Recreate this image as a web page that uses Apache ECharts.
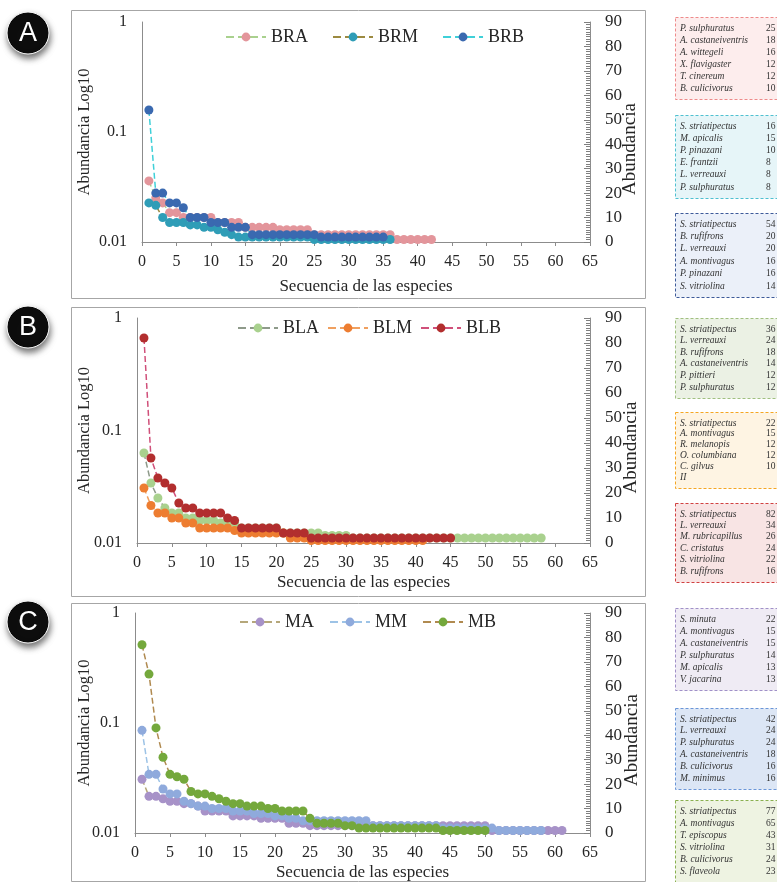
<!DOCTYPE html>
<html>
<head>
<meta charset="utf-8">
<script src="https://cdn.jsdelivr.net/npm/echarts@6.0.0/dist/echarts.min.js"></script>
<style>
  html, body { margin: 0; padding: 0; background: #fff; }
  #chart { width: 777px; height: 882px; }
</style>
</head>
<body>
<div id="chart"></div>
<script>
// abundancia por secuencia de especies (x = 1..n)
const braCounts = [25,18,16,12,12,10,10,10,10,10,8,8,8,8,6,6,6,6,6,5,5,5,5,5,3,3,3,3,3,3,3,3,3,3,3,3,1,1,1,1,1,1]
const brmCounts = [16,15,10,8,8,8,7,7,6,6,5,4,3,2,2,2,2,2,2,2,2,2,2,2,1,1,1,1,1,1,1,1,1,1,1,1]
const brbCounts = [54,20,20,16,16,14,10,10,10,8,8,8,6,6,6,3,3,3,3,3,3,3,3,3,3,2,2,2,2,2,2,2,2,2,2]

const blaCounts = [36,24,18,14,12,12,10,10,9,9,9,8,8,8,6,6,6,6,6,6,4,4,4,4,4,4,3,3,3,3,
  2,2,2,2,2,2,2,2,2,2,2,2,2,2,2,2,2,2,2,2,2,2,2,2,2,2,2,2]
const blmCounts = [22,15,12,12,10,10,8,8,6,6,6,6,6,5,4,4,4,4,4,4,4,2,2,2,1,1,1,1,1,1,1,1,1,1,1,1,1,1,1,1,1]
const blbCounts = [82,34,26,24,22,16,14,14,12,12,12,12,10,9,6,6,6,6,6,6,4,4,4,4,
  2,2,2,2,2,2,2,2,2,2,2,2,2,2,2,2,2,2,2,2,2]

const maCounts = [22,15,15,14,13,13,12,12,11,9,9,9,9,7,7,7,7,6,6,6,6,4,4,4,
  3,3,3,3,3,3,3,3,3,3,3,3,3,3,3,3,3,3,3,3,3,3,3,3,3,3,1,1,1,1,1,1,1,1,1,1,1]
const mmCounts = [42,24,24,18,16,16,13,12,11,11,10,10,10,9,9,9,8,8,8,7,7,6,6,5,5,5,5,5,5,5,5,5,5,
  3,3,3,3,3,3,3,3,3,3,2,2,2,2,2,2,2,2,1,1,1,1,1,1,1]
const mbCounts = [77,65,43,31,24,23,22,17,16,16,15,14,13,12,12,11,11,11,10,10,9,9,9,9,6,4,4,4,4,3,3,
  2,2,2,2,2,2,2,2,2,2,2,2,1,1,1,1,1,1,1]

// especies dominantes de cada recuadro
const sppBRA = ['P. sulphuratus', 'A. castaneiventris', 'A. wittegeli', 'X. flavigaster', 'T. cinereum', 'B. culicivorus']
const sppBRM = ['S. striatipectus', 'M. apicalis', 'P. pinazani', 'E. frantzii', 'L. verreauxi', 'P. sulphuratus']
const sppBRB = ['S. striatipectus', 'B. rufifrons', 'L. verreauxi', 'A. montivagus', 'P. pinazani', 'S. vitriolina']
const sppBLA = ['S. striatipectus', 'L. verreauxi', 'B. rufifrons', 'A. castaneiventris', 'P. pittieri', 'P. sulphuratus']
const sppBLM = ['S. striatipectus', 'A. montivagus', 'R. melanopis', 'O. columbiana', 'C. gilvus', 'II']
const sppBLB = ['S. striatipectus', 'L. verreauxi', 'M. rubricapillus', 'C. cristatus', 'S. vitriolina', 'B. rufifrons']
const sppMA = ['S. minuta', 'A. montivagus', 'A. castaneiventris', 'P. sulphuratus', 'M. apicalis', 'V. jacarina']
const sppMM = ['S. striatipectus', 'L. verreauxi', 'P. sulphuratus', 'A. castaneiventris', 'B. culicivorus', 'M. minimus']
const sppMB = ['S. striatipectus', 'A. montivagus', 'T. episcopus', 'S. vitriolina', 'B. culicivorus', 'S. flaveola']

const logTicks = [0.01, 0.1, 1]
const logTickLabels = ['0.01', '0.1', '1']
const xMax = 65
const rightMax = 90

const SERIF = '"Liberation Serif", "DejaVu Serif", serif'

const panels = [
  {
    letter: 'A', letterY: 33, frame: [71, 10, 574, 288],
    grid: { left: 142, top: 22, width: 448, height: 220 },
    xNameGap: 36, lNameGap: 49, rNameGap: 31,
    legend: { left: 220, top: 23, itemGap: 24 },
    series: [
      { name: 'BRA', counts: braCounts, spp: sppBRA, shown: 6, marker: '#E3959B', line: '#A9D18E', box: [17, 99], fill: '#FDEDED', border: '#EE8A8A' },
      { name: 'BRM', counts: brmCounts, spp: sppBRM, shown: 6, marker: '#2F9DB7', line: '#9C8A40', box: [115, 198], fill: '#E6F5F8', border: '#4FC0D0' },
      { name: 'BRB', counts: brbCounts, spp: sppBRB, shown: 6, marker: '#3A69B0', line: '#3FD0D8', box: [213, 297], fill: '#EBF0F9', border: '#3D5A99' }
    ]
  },
  {
    letter: 'B', letterY: 327, frame: [71, 307, 574, 289],
    grid: { left: 137, top: 318, width: 453, height: 225 },
    xNameGap: 31, lNameGap: 44, rNameGap: 32,
    legend: { left: 232, top: 314, itemGap: 8 },
    series: [
      { name: 'BLA', counts: blaCounts, spp: sppBLA, shown: 6, marker: '#A9D18E', line: '#8E9A8A', box: [318, 398], fill: '#EBF1E4', border: '#A0C080' },
      { name: 'BLM', counts: blmCounts, spp: sppBLM, shown: 5, marker: '#ED7D31', line: '#F0A060', box: [412, 488], fill: '#FEF4E3', border: '#F5A623' },
      { name: 'BLB', counts: blbCounts, spp: sppBLB, shown: 6, marker: '#B22E2E', line: '#D0507A', box: [503, 582], fill: '#F8E4E4', border: '#D04040' }
    ]
  },
  {
    letter: 'C', letterY: 622, frame: [71, 603, 574, 278],
    grid: { left: 135, top: 613, width: 455, height: 220 },
    xNameGap: 31, lNameGap: 42, rNameGap: 33,
    legend: { left: 234, top: 608, itemGap: 15 },
    series: [
      { name: 'MA', counts: maCounts, spp: sppMA, shown: 6, marker: '#A792C8', line: '#B5A77A', box: [608, 690], fill: '#EFEBF4', border: '#A090C8' },
      { name: 'MM', counts: mmCounts, spp: sppMM, shown: 6, marker: '#8FAADC', line: '#9DC3E6', box: [708, 789], fill: '#DCE6F5', border: '#6A96D8' },
      { name: 'MB', counts: mbCounts, spp: sppMB, shown: 6, marker: '#74A83C', line: '#B08A50', box: [800, 884], fill: '#EEF3E2', border: '#8AB050' }
    ]
  }
]

const axisGray = '#8C8C8C'
const textDark = '#262626'

const logLabel = (v) => {
  let best = 0
  logTicks.forEach((t, i) => {
    if (Math.abs(Math.log10(t) - Math.log10(v)) < Math.abs(Math.log10(logTicks[best]) - Math.log10(v))) best = i
  })
  return logTickLabels[best]
}

const xAxis = panels.map((p, i) => ({
  gridIndex: i,
  type: 'value',
  min: 0,
  max: xMax,
  interval: 5,
  axisLine: { show: true, lineStyle: { color: axisGray, width: 1 } },
  axisTick: { show: true, length: 4, lineStyle: { color: axisGray } },
  axisLabel: { fontFamily: SERIF, fontSize: 16, color: textDark, margin: 12 },
  splitLine: { show: false },
  name: 'Secuencia de las especies',
  nameLocation: 'middle',
  nameGap: p.xNameGap,
  nameMoveOverlap: false,
  nameTextStyle: { fontFamily: SERIF, fontSize: 17, color: textDark }
}))

const yAxis = []
panels.forEach((p, i) => {
  yAxis.push({
    gridIndex: i,
    type: 'log',
    logBase: 10,
    min: logTicks[0],
    max: logTicks[logTicks.length - 1],
    position: 'left',
    axisLine: { show: true, lineStyle: { color: axisGray, width: 1 } },
    axisTick: { show: false },
    minorTick: { show: false },
    splitLine: { show: false },
    axisLabel: { fontFamily: SERIF, fontSize: 16, color: textDark, margin: 15, formatter: logLabel },
    name: 'Abundancia Log10',
    nameLocation: 'middle',
    nameRotate: 90,
    nameGap: p.lNameGap,
    nameMoveOverlap: false,
    nameTextStyle: { fontFamily: SERIF, fontSize: 16.5, color: textDark }
  })
  yAxis.push({
    gridIndex: i,
    type: 'value',
    min: 0,
    max: rightMax,
    interval: 10,
    position: 'right',
    axisLine: { show: true, lineStyle: { color: axisGray, width: 1 } },
    axisTick: { show: true, inside: true, length: 6, lineStyle: { color: '#7F7F7F' } },
    minorTick: { show: true, splitNumber: 10, length: 4, lineStyle: { color: '#808080', width: 1 } },
    splitLine: { show: false },
    axisLabel: { fontFamily: SERIF, fontSize: 17, color: textDark, margin: 15 },
    name: 'Abundancia',
    nameLocation: 'middle',
    nameRotate: 90,
    nameGap: p.rNameGap,
    nameMoveOverlap: false,
    nameTextStyle: { fontFamily: SERIF, fontSize: 19, color: textDark, padding: [0, 34, 0, 0] }
  })
})

const series = []
panels.forEach((p, i) => {
  p.series.forEach(s => {
    series.push({
      name: s.name,
      type: 'line',
      xAxisIndex: i,
      yAxisIndex: i * 2 + 1,
      data: s.counts.map((v, k) => [k + 1, v]),
      symbol: 'circle',
      symbolSize: 9,
      showSymbol: true,
      itemStyle: { color: s.marker },
      lineStyle: { color: s.line, width: 1.5, type: 'dashed' },
      emphasis: { disabled: true }
    })
  })
})

const legend = panels.map(p => ({
  data: p.series.map(s => s.name),
  left: p.legend.left,
  top: p.legend.top,
  orient: 'horizontal',
  itemWidth: 40,
  itemHeight: 11,
  itemGap: p.legend.itemGap,
  textStyle: { fontFamily: SERIF, fontSize: 18, color: textDark },
  selectedMode: false
}))

const graphic = []
panels.forEach(p => {
  const [fx, fy, fw, fh] = p.frame
  graphic.push({
    type: 'rect', silent: true, z: 0,
    shape: { x: fx + 0.5, y: fy + 0.5, width: fw, height: fh },
    style: { fill: 'none', stroke: '#A6A6A6', lineWidth: 1 }
  })
  graphic.push({
    type: 'circle', silent: true, z: 10,
    shape: { cx: 28, cy: p.letterY, r: 21 },
    style: { fill: '#0D0D0D', stroke: '#FFFFFF', lineWidth: 1, shadowBlur: 6, shadowOffsetX: 1, shadowOffsetY: 4, shadowColor: 'rgba(0,0,0,0.55)' }
  })
  graphic.push({
    type: 'text', silent: true, z: 11,
    x: 28, y: p.letterY + 1,
    style: { text: p.letter, font: '27px "Liberation Sans", Arial, sans-serif', fill: '#FFFFFF', align: 'center', verticalAlign: 'middle' }
  })
  p.series.forEach(s => {
    const [bt, bb] = s.box
    graphic.push({
      type: 'rect', silent: true, z: 0,
      shape: { x: 675.5, y: bt + 0.5, width: 130, height: bb - bt },
      style: { fill: s.fill, stroke: s.border, lineWidth: 1, lineDash: [3, 2] }
    })
    const step = (Math.min(bb, 882) - bt - 22) / 5
    s.spp.forEach((name, k) => {
      const y = bt + 11 + k * step
      graphic.push({
        type: 'text', silent: true, z: 1,
        x: 680, y: y,
        style: { text: name, font: 'italic 9.5px ' + SERIF, fill: '#333', verticalAlign: 'middle' }
      })
      if (k < s.shown) {
        graphic.push({
          type: 'text', silent: true, z: 1,
          x: 766, y: y,
          style: { text: String(s.counts[k]), font: '9.5px ' + SERIF, fill: '#333', verticalAlign: 'middle' }
        })
      }
    })
  })
})

const chart = echarts.init(document.getElementById('chart'), null, { renderer: 'canvas' })
chart.setOption({
  animation: false,
  backgroundColor: '#FFFFFF',
  textStyle: { fontFamily: SERIF },
  grid: panels.map(p => ({ ...p.grid, containLabel: false, outerBoundsMode: 'none' })),
  xAxis,
  yAxis,
  legend,
  series,
  graphic
})

window.addEventListener('resize', () => {
  chart.resize()
})
</script>
</body>
</html>
